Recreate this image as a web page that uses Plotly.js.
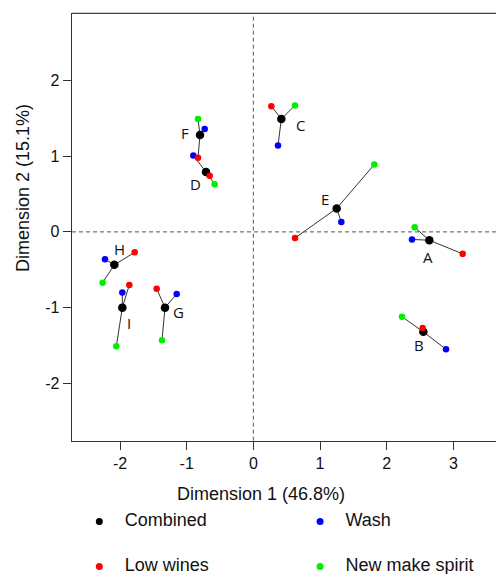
<!DOCTYPE html>
<html>
<head>
<meta charset="utf-8">
<script src="https://cdn.plot.ly/plotly-3.0.1.min.js"></script>
<style>html,body{margin:0;padding:0;background:#fff;}#chart{width:496px;height:574px;}</style>
</head>
<body>
<div id="chart"></div>
<script>
// ---- data ----
var samples = ['A', 'B', 'C', 'D', 'E', 'F', 'G', 'H', 'I'];
var combinedX = [2.64, 2.55, 0.42, -0.71, 1.25, -0.80, -1.325, -2.085, -1.965];
var combinedY = [-0.11, -1.32, 1.49, 0.79, 0.31, 1.28, -1.00, -0.435, -1.00];
var washX = [2.38, 2.89, 0.37, -0.90, 1.32, -0.73, -1.15, -2.225, -1.965];
var washY = [-0.10, -1.55, 1.14, 1.01, 0.13, 1.36, -0.82, -0.36, -0.80];
var lowWinesX = [3.14, 2.54, 0.27, -0.655, 0.625, -0.83, -1.45, -1.78, -1.86];
var lowWinesY = [-0.29, -1.27, 1.66, 0.74, -0.08, 0.98, -0.75, -0.27, -0.70];
var newMakeX = [2.42, 2.23, 0.625, -0.58, 1.815, -0.83, -1.37, -2.26, -2.055];
var newMakeY = [0.06, -1.12, 1.67, 0.63, 0.89, 1.49, -1.43, -0.67, -1.51];
var legendNames = ['Combined', 'Wash', 'Low wines', 'New make spirit'];
var tickVals = [-2, -1, 0, 1, 2, 3];
var tickText = ['-2', '-1', '0', '1', '2', '3'];
var xTitle = 'Dimension 1 (46.8%)';
var yTitle = 'Dimension 2 (15.1%)';

// ---- styles ----
var legendColors = ['#000000', '#0000ff', '#ff0000', '#00ee00'];
var labelShift = [[-1,-17],[-4,-13],[19,-6],[-11,-12],[-12,9],[-15,2],[13,-4],[5,16],[7,-15]];
var FONT = 'Liberation Sans, Arial, sans-serif';

// connecting segments built from data
var segX = [], segY = [];
for (var i = 0; i < samples.length; i++) {
  [[washX, washY], [lowWinesX, lowWinesY], [newMakeX, newMakeY]].forEach(function (p) {
    segX.push(combinedX[i], p[0][i], null);
    segY.push(combinedY[i], p[1][i], null);
  });
}

var traces = [
  {x: segX, y: segY, mode: 'lines', line: {color: '#333', width: 1}, hoverinfo: 'skip', showlegend: false},
  {x: combinedX, y: combinedY, mode: 'markers', marker: {color: legendColors[0], size: 8.5}, showlegend: false},
  {x: washX, y: washY, mode: 'markers', marker: {color: legendColors[1], size: 6.5}, showlegend: false},
  {x: newMakeX, y: newMakeY, mode: 'markers', marker: {color: legendColors[3], size: 6.5}, showlegend: false},
  {x: lowWinesX, y: lowWinesY, mode: 'markers', marker: {color: legendColors[2], size: 6.5}, showlegend: false}
];

// legend drawn on a hidden helper subplot: 2 columns x 2 rows
var legX = legendNames.map(function (_, k) { return k % 2; });
var legY = legendNames.map(function (_, k) { return -Math.floor(k / 2); });
traces.push({x: legX, y: legY, xaxis: 'x2', yaxis: 'y2', mode: 'markers',
  marker: {color: legendColors, size: 7}, showlegend: false, hoverinfo: 'skip'});
traces.push({x: legX.map(function (v) { return v + 0.115; }), y: legY, xaxis: 'x2', yaxis: 'y2', mode: 'text',
  text: legendNames, textposition: 'middle right', textfont: {family: FONT, size: 18, color: '#111'},
  showlegend: false, hoverinfo: 'skip'});

var annotations = samples.map(function (s, k) {
  return {x: combinedX[k], y: combinedY[k], xref: 'x', yref: 'y', text: s, showarrow: false,
    xshift: labelShift[k][0], yshift: labelShift[k][1],
    font: {family: 'Open Sans, sans-serif', size: 15, color: '#111'}};
});
annotations.push({x: 261 / 496, y: 1 - 494 / 574, xref: 'paper', yref: 'paper', text: xTitle,
  showarrow: false, xanchor: 'center', yanchor: 'middle', font: {family: FONT, size: 18, color: '#111'}});
annotations.push({x: 23 / 496, y: 1 - 188 / 574, xref: 'paper', yref: 'paper', text: yTitle, textangle: -90,
  showarrow: false, xanchor: 'center', yanchor: 'middle', font: {family: FONT, size: 18, color: '#111'}});

var layout = {
  width: 496, height: 574,
  margin: {l: 0, r: 0, t: 0, b: 0},
  paper_bgcolor: '#fff', plot_bgcolor: 'rgba(0,0,0,0)',
  showlegend: false,
  xaxis: {domain: [72 / 496, 1], range: [-2.72, 3.64], showgrid: false, zeroline: false,
    showline: true, linecolor: '#333', linewidth: 1.3, ticks: 'outside', ticklen: 8, tickcolor: '#333',
    tickvals: tickVals, ticktext: tickText, tickfont: {family: FONT, size: 16, color: '#111'}, anchor: 'y'},
  yaxis: {domain: [(574 - 440.7) / 574, (574 - 13.3) / 574], range: [-2.757, 2.886], showgrid: false, zeroline: false,
    showline: true, linecolor: '#333', linewidth: 1.3, ticks: 'outside', ticklen: 8, tickcolor: '#333',
    tickvals: [-2, -1, 0, 1, 2], ticktext: ['-2', '-1', '0', '1', '2'],
    tickfont: {family: FONT, size: 16, color: '#111'}, anchor: 'x'},
  xaxis2: {domain: [0, 1], range: [-0.45, 1.797], visible: false, anchor: 'y2', fixedrange: true},
  yaxis2: {domain: [0, 0.2], range: [-1.167, 1.384], visible: false, anchor: 'x2', fixedrange: true},
  shapes: [
    {type: 'line', xref: 'x', yref: 'y domain', x0: 0, x1: 0, y0: 0, y1: 1, line: {color: '#555', width: 1, dash: '4px,3px'}},
    {type: 'line', xref: 'x domain', yref: 'y', x0: 0, x1: 1, y0: 0, y1: 0, line: {color: '#555', width: 1, dash: '4px,3px'}},
    {type: 'line', xref: 'x domain', yref: 'y domain', x0: 0, x1: 1, y0: 1, y1: 1, line: {color: '#444', width: 1.3}}
  ],
  annotations: annotations
};

Plotly.newPlot('chart', traces, layout, {staticPlot: true, displayModeBar: false});
</script>
</body>
</html>
